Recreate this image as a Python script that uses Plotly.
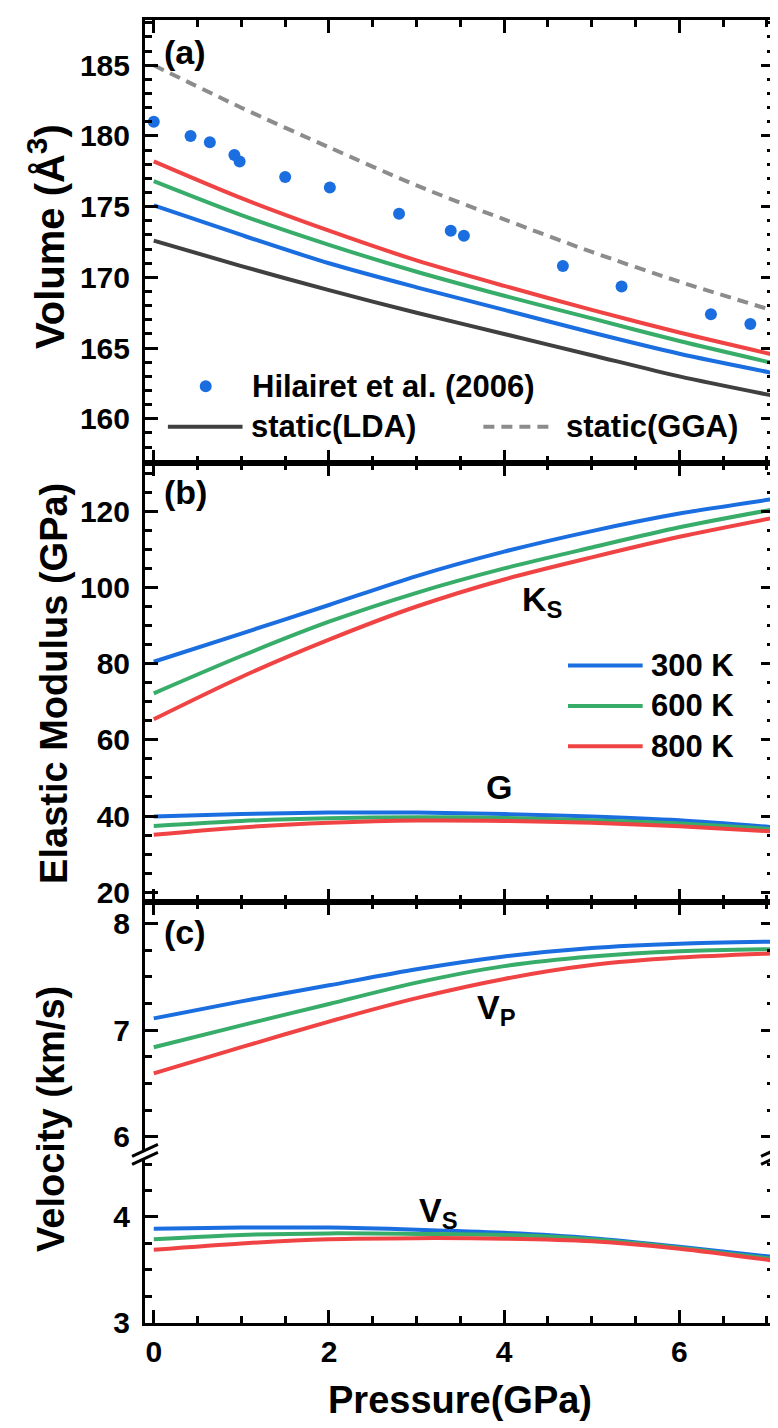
import plotly.graph_objects as go

# ---------------- data ----------------
P = [0, 1, 2, 3, 4, 5, 6, 7.1]

V_lda = [172.6, 170.8, 169.1, 167.5, 166.0, 164.5, 163.0, 161.6]
V_gga = [185.0, 182.0, 179.2, 176.5, 174.1, 171.8, 169.7, 167.6]
V_300 = [175.1, 173.0, 171.0, 169.3, 167.7, 166.1, 164.6, 163.2]
V_600 = [176.8, 174.4, 172.3, 170.4, 168.7, 167.1, 165.5, 163.9]
V_800 = [178.2, 175.6, 173.3, 171.2, 169.4, 167.7, 166.1, 164.5]

P_exp = [0.0, 0.42, 0.64, 0.92, 0.98, 1.50, 2.01, 2.80, 3.39, 3.54, 4.67, 5.34, 6.36, 6.81]
V_exp = [181.0, 180.0, 179.55, 178.65, 178.2, 177.1, 176.35, 174.5, 173.3, 172.95, 170.8, 169.35, 167.4, 166.7]

K_300 = [80.5, 87.9, 95.4, 103.0, 109.4, 114.8, 119.4, 123.3]
K_600 = [72.2, 82.0, 91.0, 98.6, 105.0, 110.5, 115.8, 120.6]
K_800 = [65.4, 76.5, 86.3, 95.0, 102.1, 107.9, 113.3, 118.4]

G_300 = [39.9, 40.5, 40.9, 40.9, 40.5, 39.9, 38.9, 37.0]
G_600 = [37.4, 38.7, 39.4, 39.7, 39.5, 38.9, 38.0, 36.5]
G_800 = [35.1, 37.0, 38.2, 38.8, 38.7, 38.2, 37.3, 35.9]

Vp_300 = [7.11, 7.27, 7.42, 7.57, 7.69, 7.77, 7.81, 7.83]
Vp_600 = [6.84, 7.045, 7.245, 7.445, 7.60, 7.69, 7.74, 7.76]
Vp_800 = [6.595, 6.84, 7.08, 7.30, 7.48, 7.61, 7.68, 7.72]

Vs_300 = [3.89, 3.90, 3.90, 3.88, 3.85, 3.80, 3.72, 3.62]
Vs_600 = [3.79, 3.83, 3.845, 3.84, 3.83, 3.79, 3.71, 3.60]
Vs_800 = [3.69, 3.75, 3.79, 3.80, 3.795, 3.77, 3.70, 3.585]

temps = ["300 K", "600 K", "800 K"]
x_ticks = [0, 2, 4, 6]

# ---------------- style ----------------
BLUE = "#1b6ee0"
GREEN = "#38ad6a"
RED = "#f04444"
DARK = "#404040"
GRAY = "#8c8c8c"
COLS = [BLUE, GREEN, RED]
FAM = "Liberation Sans, Arial, sans-serif"

W, H = 778, 1428
L, R, T, B = 137, 769, 9, 1315


def px(x):
    return (x - L) / (R - L)


def py(y):
    return (B - y) / (B - T)


fig = go.Figure()


def line(xs, ys, col, xa, ya, dash="solid"):
    fig.add_trace(go.Scatter(
        x=xs, y=ys, mode="lines", xaxis=xa, yaxis=ya,
        line=dict(color=col, width=4, dash=dash, shape="spline", smoothing=0.8),
        showlegend=False, hoverinfo="skip"))


# panel (a)
line(P, V_lda, DARK, "x", "y")
line(P, V_300, BLUE, "x", "y")
line(P, V_600, GREEN, "x", "y")
line(P, V_800, RED, "x", "y")
line(P, V_gga, GRAY, "x", "y", dash="11px,7px")
fig.add_trace(go.Scatter(x=P_exp, y=V_exp, mode="markers", xaxis="x", yaxis="y",
                         marker=dict(color=BLUE, size=12), showlegend=False))

# panel (b)
for ys, c in zip([K_300, K_600, K_800], COLS):
    line(P, ys, c, "x2", "y2")
for ys, c in zip([G_300, G_600, G_800], COLS):
    line(P, ys, c, "x2", "y2")

# panel (c)
for ys, c in zip([Vp_300, Vp_600, Vp_800], COLS):
    line(P, ys, c, "x3", "y3")
for ys, c in zip([Vs_300, Vs_600, Vs_800], COLS):
    line(P, ys, c, "x4", "y4")

tickfont = dict(family=FAM, size=30, color="black", weight="bold")
minor_common = dict(ticks="inside", ticklen=7, tickwidth=3, tickcolor="black")

xbase = dict(range=[-0.1, 7.08], showline=True, linewidth=3, linecolor="black",
             ticks="inside", ticklen=13, tickwidth=3, tickcolor="black",
             tickvals=x_ticks, showgrid=False, zeroline=False,
             minor=dict(minor_common, tick0=0, dtick=0.5),
             tickfont=tickfont)
ybase = dict(showline=True, linewidth=3, linecolor="black", mirror="allticks",
             ticks="inside", ticklen=13, tickwidth=3, tickcolor="black",
             showgrid=False, zeroline=False, tickfont=tickfont,
             ticklabelstandoff=6)

Y_BRK = 1143
fig.update_layout(
    width=W, height=H, plot_bgcolor="white", paper_bgcolor="white",
    margin=dict(l=L, r=W - R, t=T, b=H - B),
    font=dict(family=FAM, color="black", weight="bold"),
    showlegend=False,
    xaxis=dict(xbase, anchor="y", mirror="allticks", showticklabels=False),
    xaxis2=dict(xbase, anchor="y2", mirror="allticks", showticklabels=False),
    xaxis3=dict(xbase, anchor="y3", side="top", showticklabels=False),
    xaxis4=dict(xbase, anchor="y4", side="bottom", showticklabels=True,
                ticklabelstandoff=0),
    yaxis=dict(ybase, anchor="x", domain=[py(452.7), 1.0], range=[156.9, 188.2],
               tick0=0, dtick=5, minor=dict(minor_common, tick0=0, dtick=1)),
    yaxis2=dict(ybase, anchor="x2", domain=[py(893.5), py(452.7)], range=[17.3, 132.76],
                tick0=0, dtick=20, minor=dict(minor_common, tick0=0, dtick=5)),
    yaxis3=dict(ybase, anchor="x3", domain=[py(Y_BRK), py(893.5)], range=[5.863, 8.197],
                tick0=0, dtick=1, minor=dict(minor_common, tick0=0, dtick=0.25)),
    yaxis4=dict(ybase, anchor="x4", domain=[0, py(Y_BRK)], range=[2.998, 4.62],
                tick0=0, dtick=1, minor=dict(minor_common, tick0=0, dtick=0.25)),
)

ann = []


def text(x, y, s, size=34, xanchor="left", angle=0):
    ann.append(dict(x=px(x), y=py(y), xref="paper", yref="paper", text=s,
                    showarrow=False, xanchor=xanchor, yanchor="middle",
                    textangle=angle,
                    font=dict(family=FAM, size=size, color="black", weight="bold")))


# panel labels
text(154, 41, "(a)")
text(154, 482, "(b)")
text(154, 923, "(c)")
text(514, 592, "K<sub>S</sub>")
text(478, 778, "G")
text(469, 1001, "V<sub>P</sub>")
text(410, 1204, "V<sub>S</sub>")

# axis titles
text(37, 226, "Volume (Å<sup><span style='font-size:30px'>3</span></sup>)",
     size=40, xanchor="center", angle=-90)
text(46, 674, "Elastic Modulus (GPa)", size=38, xanchor="center", angle=-90)
text(43, 1110, "Velocity (km/s)", size=38, xanchor="center", angle=-90)
text(453, 1392, "Pressure(GPa)", size=38, xanchor="center")

# manual legends
shapes = []


def seg(x0, y0, x1, y1, col, w=4, dash="solid"):
    shapes.append(dict(type="line", xref="paper", yref="paper",
                       x0=px(x0), y0=py(y0), x1=px(x1), y1=py(y1),
                       line=dict(color=col, width=w, dash=dash)))


shapes.append(dict(type="circle", xref="paper", yref="paper",
                   xsizemode="pixel", ysizemode="pixel",
                   xanchor=px(198), yanchor=py(376), x0=-6, x1=6, y0=-6, y1=6,
                   fillcolor=BLUE, line=dict(color=BLUE, width=0)))
text(243, 376, "Hilairet et al. (2006)", size=31)
seg(160, 416.7, 235, 416.7, DARK)
text(241, 416.7, "static(LDA)", size=31)
seg(477, 416.7, 547, 416.7, GRAY, dash="11px,7px")
text(558, 416.7, "static(GGA)", size=31)

for i, (lab, c) in enumerate(zip(temps, COLS)):
    yy = 656 + 40.5 * i
    seg(562, yy, 637, yy, c)
    text(643, yy, lab, size=31)

# axis break marks
for xc in (L, R):
    shapes.append(dict(type="path", xref="paper", yref="paper",
                       path="M {} {} L {} {} L {} {} L {} {} Z".format(
                           px(xc - 7), py(Y_BRK + 2), px(xc + 7), py(Y_BRK - 4),
                           px(xc + 7), py(Y_BRK + 4), px(xc - 7), py(Y_BRK + 10)),
                       fillcolor="white", line=dict(width=0)))
    seg(xc - 13, Y_BRK + 5, xc + 13, Y_BRK - 7, "black", w=3)
    seg(xc - 13, Y_BRK + 13, xc + 13, Y_BRK + 1, "black", w=3)

fig.update_layout(annotations=ann, shapes=shapes)
fig.write_html("out.html")
